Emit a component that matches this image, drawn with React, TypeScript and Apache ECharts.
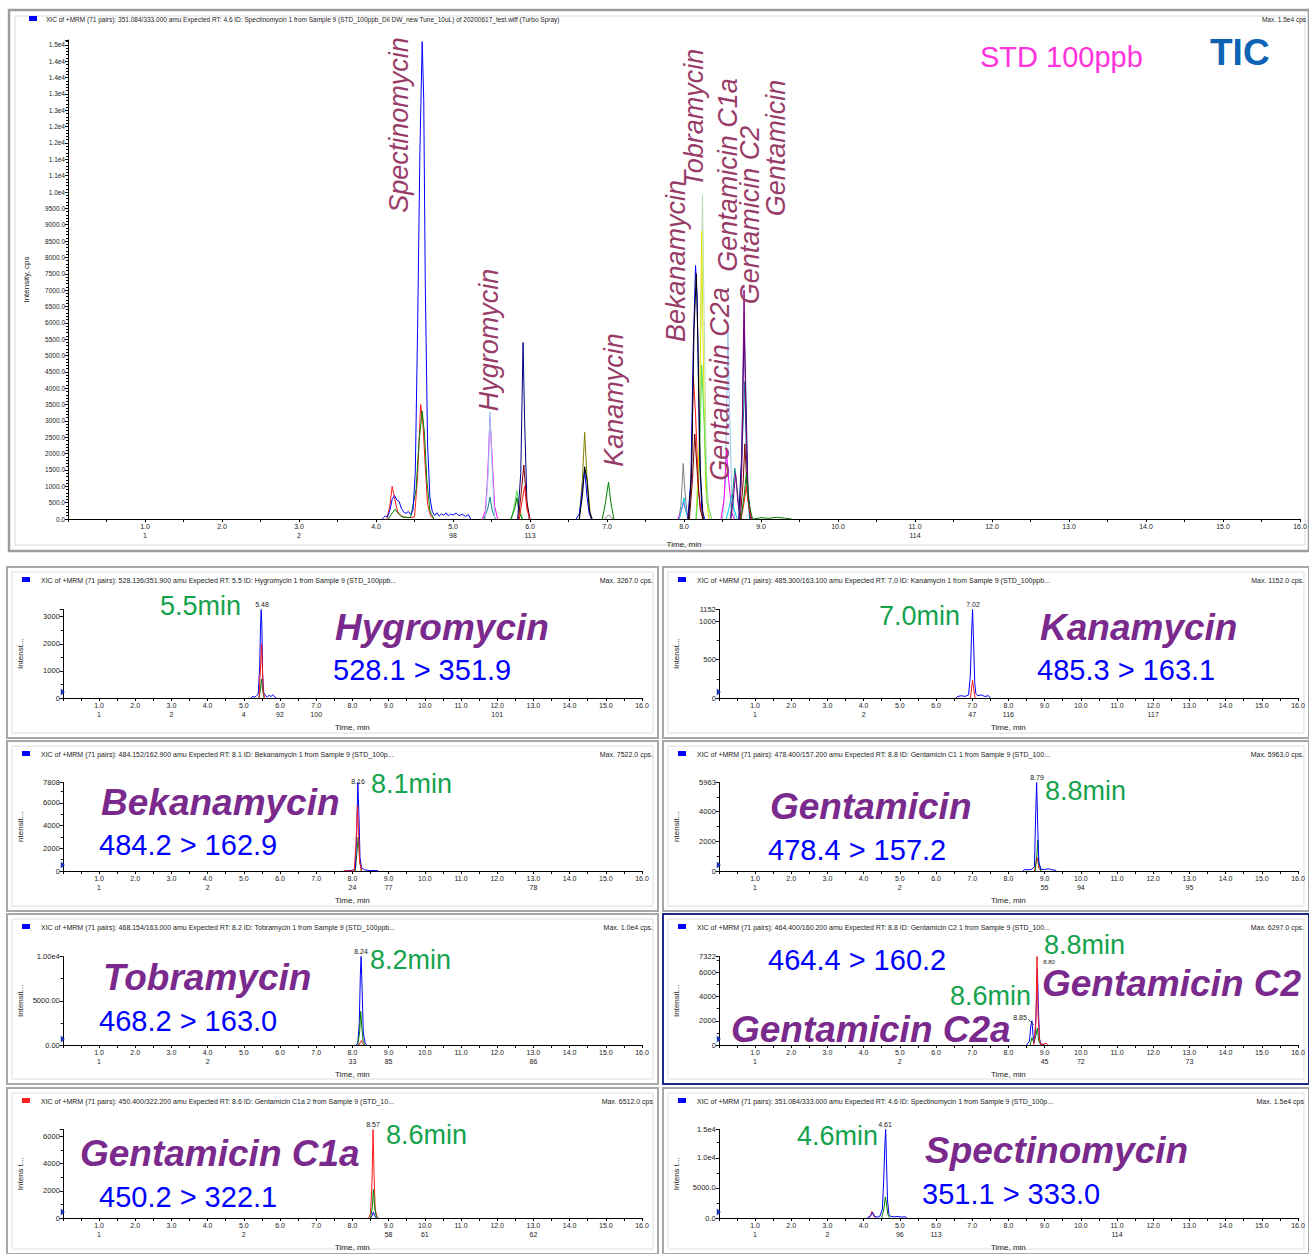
import React, { useEffect, useRef } from 'react';
import * as echarts from 'echarts';

const FONT = '"Liberation Sans", Arial, Helvetica, sans-serif';

// ---------------- TIC (top panel) traces: [time (min), intensity (cps)] ----------------
const SPEC_TIC_RED = [[4.14,0],[4.18,400],[4.21,1000],[4.24,650],[4.28,220],[4.33,90],[4.40,40],[4.50,60],[4.54,1300],[4.58,3500],[4.61,2900],[4.64,1600],[4.67,450],[4.71,80],[4.76,0]];
const SPEC_TIC_GREEN = [[4.16,0],[4.21,180],[4.25,300],[4.29,160],[4.34,60],[4.45,40],[4.52,900],[4.56,2400],[4.60,3300],[4.63,2600],[4.66,1200],[4.70,250],[4.75,0]];
const SPEC_TIC_BLUE = [[4.08,0],[4.12,90],[4.15,60],[4.18,260],[4.21,600],[4.24,720],[4.27,580],[4.30,540],[4.33,320],[4.36,210],[4.39,170],[4.42,230],[4.45,140],[4.48,260],[4.51,1400],[4.54,5800],[4.57,11200],[4.60,14600],[4.62,12800],[4.64,7200],[4.67,2300],[4.70,650],[4.73,240],[4.76,110],[4.79,190],[4.82,90],[4.85,160],[4.88,110],[4.91,190],[4.94,100],[4.97,150],[5.00,120],[5.04,180],[5.08,100],[5.12,150],[5.16,80],[5.20,130],[5.23,0]];
const HYG_TIC_TEAL = [[5.40,0],[5.45,300],[5.48,670],[5.51,250],[5.55,0]];
const HYG_TIC_MAGENTA = [[5.38,0],[5.42,250],[5.45,1300],[5.48,3100],[5.51,1800],[5.54,400],[5.58,0]];
const HYG_TIC_LIGHTBLUE = [[5.42,0],[5.46,1500],[5.48,3270],[5.50,2000],[5.54,0]];
const P58_LIGHTGREEN = [[5.76,0],[5.80,450],[5.83,870],[5.86,400],[5.90,0]];
const P58_GREEN = [[5.75,0],[5.80,300],[5.83,650],[5.86,200],[5.90,0]];
const P59_NAVY = [[5.84,0],[5.88,1400],[5.91,5400],[5.93,3000],[5.96,500],[6.00,0]];
const P59_MAROON = [[5.85,0],[5.89,900],[5.92,1650],[5.95,700],[5.99,0]];
const P59_RED = [[5.86,0],[5.90,600],[5.93,1000],[5.96,300],[6.00,0]];
const P67_OLIVE = [[6.64,0],[6.68,1200],[6.71,2650],[6.74,1300],[6.78,200],[6.81,0]];
const P67_BLUE = [[6.60,0],[6.64,150],[6.68,900],[6.71,1500],[6.74,700],[6.77,150],[6.80,0]];
const P67_BLACK = [[6.64,0],[6.68,700],[6.71,1600],[6.74,1200],[6.77,300],[6.80,0]];
const KAN_TIC_GREEN = [[6.94,0],[6.98,500],[7.02,1130],[7.05,500],[7.09,0]];
const KAN_TIC_GRAY = [[6.97,0],[7.00,80],[7.02,120],[7.05,60],[7.08,0]];
const P80_GRAY = [[7.93,0],[7.96,400],[7.99,1700],[8.01,900],[8.04,200],[8.07,0]];
const P80_MAGENTA = [[7.92,0],[7.96,200],[7.99,500],[8.02,300],[8.06,0]];
const P80_CYAN = [[7.94,0],[7.97,300],[8.00,650],[8.02,300],[8.05,0]];
const BEK_TIC_RED = [[8.05,0],[8.09,1000],[8.12,4400],[8.15,3200],[8.19,800],[8.24,0]];
const BEK_TIC_MAROON = [[8.07,0],[8.11,1200],[8.14,2600],[8.17,1500],[8.21,300],[8.25,0]];
const BEK_TIC_BLUE = [[8.05,0],[8.09,1200],[8.12,5200],[8.15,7750],[8.17,6800],[8.20,2400],[8.23,300],[8.27,0]];
const BEK_TIC_BLACK = [[8.06,0],[8.10,1500],[8.13,5800],[8.16,7500],[8.18,5500],[8.21,1500],[8.25,0]];
const TOB_TIC_PALEGREEN = [[8.15,0],[8.19,1500],[8.22,6000],[8.24,9900],[8.26,6500],[8.29,1500],[8.33,0]];
const TOB_TIC_YELLOW = [[8.16,0],[8.20,2500],[8.23,8800],[8.25,5000],[8.28,1000],[8.32,0]];
const TOB_TIC_GREEN = [[8.16,0],[8.20,1500],[8.23,4700],[8.26,3000],[8.30,500],[8.36,0]];
const C1A_TIC_LIGHTBLUE = [[8.50,0],[8.54,1200],[8.57,5800],[8.59,3500],[8.62,800],[8.66,0]];
const C1A_TIC_MAGENTA = [[8.48,0],[8.52,600],[8.55,2100],[8.58,1200],[8.62,200],[8.65,0]];
const C1A_TIC_CYAN = [[8.55,0],[8.59,400],[8.62,750],[8.65,300],[8.69,0]];
const C2A_TIC_TEAL = [[8.60,0],[8.63,700],[8.66,1550],[8.69,900],[8.72,200],[8.75,0]];
const C2A_TIC_PURPLE = [[8.61,0],[8.64,600],[8.67,1400],[8.70,500],[8.74,0]];
const GEN_TIC_MAROON = [[8.73,0],[8.77,1200],[8.79,2300],[8.82,900],[8.86,0]];
const GEN_TIC_TEAL = [[8.72,0],[8.76,2500],[8.79,4200],[8.81,2000],[8.85,0]];
const GEN_TIC_NAVY = [[8.71,0],[8.75,2000],[8.78,5800],[8.80,4200],[8.83,900],[8.87,0]];
const GEN_TIC_PURPLE = [[8.72,0],[8.75,1500],[8.78,7000],[8.80,3500],[8.83,600],[8.87,0]];
const GEN_TIC_RED = [[8.74,0],[8.78,500],[8.81,1000],[8.84,400],[8.88,0]];
const GEN_TIC_GREEN = [[8.74,0],[8.78,700],[8.81,1400],[8.84,500],[8.89,0]];
const TAIL_TIC_NOISE = [[8.90,0],[9.00,40],[9.10,20],[9.20,50],[9.30,30],[9.40,0]];

const TIC_SCANS: [number, string][] = [[1,'1'],[3,'2'],[5,'98'],[6,'113'],[11,'114']];

// ---------------- XIC panels ----------------
const HYG_BLUE = [[5.20,0],[5.25,60],[5.30,30],[5.35,80],[5.40,150],[5.44,1200],[5.46,2500],[5.48,3267],[5.50,2600],[5.52,900],[5.55,200],[5.60,80],[5.65,40],[5.70,100],[5.75,50],[5.80,120],[5.85,40],[5.90,0]];
const HYG_RED = [[5.42,0],[5.45,800],[5.49,2000],[5.51,1200],[5.54,200],[5.58,0]];
const HYG_GREEN = [[5.42,0],[5.46,300],[5.49,700],[5.52,300],[5.56,0]];
const HYG_SCANS: [number, string][] = [[1,'1'],[3,'2'],[5,'4'],[6,'92'],[7,'100'],[12,'101']];

const KAN_BLUE = [[6.55,0],[6.60,20],[6.70,30],[6.80,20],[6.90,40],[6.95,300],[6.98,800],[7.01,1152],[7.04,700],[7.07,200],[7.10,60],[7.15,30],[7.25,40],[7.35,20],[7.45,30],[7.50,0]];
const KAN_RED = [[6.95,0],[6.99,150],[7.01,230],[7.04,120],[7.08,0]];
const KAN_SCANS: [number, string][] = [[1,'1'],[4,'2'],[7,'47'],[8,'116'],[12,'117']];

const BEK_BLUE = [[7.80,0],[7.90,40],[8.00,60],[8.08,200],[8.12,3500],[8.15,7808],[8.18,5000],[8.21,1200],[8.25,300],[8.35,80],[8.50,40],[8.70,30],[8.72,0]];
const BEK_RED = [[7.75,0],[7.80,50],[7.85,0],[8.05,0],[8.10,2500],[8.14,5700],[8.17,3500],[8.20,800],[8.25,0]];
const BEK_GREEN = [[8.08,0],[8.12,1500],[8.16,3000],[8.20,1000],[8.25,0]];
const BEK_SCANS: [number, string][] = [[1,'1'],[4,'2'],[8,'24'],[9,'77'],[13,'78']];

const GEN_BLUE = [[8.40,0],[8.45,100],[8.55,80],[8.65,120],[8.72,300],[8.75,3500],[8.78,5963],[8.81,3000],[8.84,600],[8.90,120],[9.00,100],[9.10,150],[9.20,80],[9.30,60],[9.32,0]];
const GEN_RED = [[8.72,0],[8.77,700],[8.80,900],[8.84,200],[8.90,0]];
const GEN_GREEN = [[8.74,0],[8.79,1200],[8.81,2100],[8.84,500],[8.90,0]];
const GEN_SCANS: [number, string][] = [[1,'1'],[5,'2'],[9,'55'],[10,'94'],[13,'95']];

const TOB_BLUE = [[8.10,0],[8.15,200],[8.19,2500],[8.22,8000],[8.24,10000],[8.27,6000],[8.30,1500],[8.35,200],[8.40,0]];
const TOB_GREEN = [[8.15,0],[8.20,1500],[8.23,3800],[8.26,2000],[8.30,300],[8.35,0]];
const TOB_RED = [[8.18,0],[8.22,300],[8.25,500],[8.28,200],[8.32,0]];
const TOB_SCANS: [number, string][] = [[1,'1'],[4,'2'],[8,'33'],[9,'85'],[13,'86']];

const C2_BLUE = [[8.50,0],[8.58,300],[8.62,1600],[8.65,2000],[8.68,800],[8.72,200],[8.75,1500],[8.78,4000],[8.80,6300],[8.83,3000],[8.86,500],[8.90,100],[9.00,0]];
const C2_RED = [[8.70,0],[8.76,2000],[8.79,7322],[8.82,2500],[8.86,400],[8.90,0],[9.05,150],[9.10,0]];
const C2_GREEN = [[8.60,0],[8.65,600],[8.70,200],[8.76,800],[8.80,1400],[8.84,300],[8.90,0]];
const C2_SCANS: [number, string][] = [[1,'1'],[5,'2'],[9,'45'],[10,'72'],[13,'73']];

const C1A_BLUE = [[8.50,0],[8.55,200],[8.58,450],[8.61,200],[8.66,0]];
const C1A_RED = [[8.45,0],[8.50,300],[8.54,2500],[8.57,6512],[8.60,3000],[8.63,600],[8.68,100],[8.72,0]];
const C1A_GREEN = [[8.50,0],[8.55,800],[8.58,2100],[8.61,1000],[8.65,200],[8.70,0]];
const C1A_SCANS: [number, string][] = [[1,'1'],[5,'2'],[9,'58'],[10,'61'],[13,'62']];

const SPEC_BLUE = [[4.10,0],[4.15,200],[4.20,400],[4.25,900],[4.30,300],[4.35,200],[4.40,150],[4.45,300],[4.52,1500],[4.56,7000],[4.59,12500],[4.61,14700],[4.63,10000],[4.66,3000],[4.70,600],[4.75,250],[4.85,200],[4.95,250],[5.05,150],[5.15,200],[5.20,0]];
const SPEC_GREEN = [[4.50,0],[4.56,1500],[4.60,3500],[4.63,2500],[4.67,600],[4.72,0]];
const SPEC_RED = [[4.15,0],[4.20,600],[4.23,1100],[4.27,500],[4.32,0]];
const SPEC_SCANS: [number, string][] = [[1,'1'],[3,'2'],[5,'96'],[6,'113'],[11,'114']];

// ---------------- colours ----------------
const C = {
  blue: '#0000ff', red: '#ff1a1a', green: '#008000', navy: '#000080', magenta: '#ff00ff',
  lightblue: '#9cc6ee', teal: '#008080', lightgreen: '#55dd55', palegreen: '#b5dcb0',
  maroon: '#800000', olive: '#808000', black: '#000000', gray: '#808080', cyan: '#00d0e0',
  yellow: '#e6e600', purple: '#800080',
};

const TIC_TRACES: [number[][], string][] = [
  [SPEC_TIC_RED, C.red], [SPEC_TIC_GREEN, C.green], [SPEC_TIC_BLUE, C.blue],
  [HYG_TIC_TEAL, C.teal], [HYG_TIC_MAGENTA, C.magenta], [HYG_TIC_LIGHTBLUE, C.lightblue],
  [P58_LIGHTGREEN, C.lightgreen], [P58_GREEN, C.green], [P59_NAVY, C.navy], [P59_MAROON, C.maroon], [P59_RED, C.red],
  [P67_OLIVE, C.olive], [P67_BLUE, C.blue], [P67_BLACK, C.black],
  [KAN_TIC_GREEN, C.green], [KAN_TIC_GRAY, C.gray],
  [P80_GRAY, C.gray], [P80_MAGENTA, C.magenta], [P80_CYAN, C.cyan],
  [TOB_TIC_PALEGREEN, C.palegreen], [TOB_TIC_YELLOW, C.yellow], [TOB_TIC_GREEN, C.lightgreen],
  [BEK_TIC_RED, C.red], [BEK_TIC_MAROON, C.maroon], [BEK_TIC_BLUE, C.blue], [BEK_TIC_BLACK, C.black],
  [C1A_TIC_LIGHTBLUE, C.lightblue], [C1A_TIC_MAGENTA, C.magenta], [C1A_TIC_CYAN, C.cyan],
  [C2A_TIC_TEAL, C.teal], [C2A_TIC_PURPLE, C.purple],
  [GEN_TIC_MAROON, C.maroon], [GEN_TIC_TEAL, C.teal], [GEN_TIC_NAVY, C.navy], [GEN_TIC_PURPLE, C.purple],
  [GEN_TIC_RED, C.red], [GEN_TIC_GREEN, C.green], [TAIL_TIC_NOISE, C.green],
];

const YFMT: Record<string, (v: number) => string> = {
  int: (v) => v.toFixed(0),
  e4two: (v) => (v >= 1e4 ? (Math.round(v / 100) / 100).toFixed(2) + 'e4' : v.toFixed(2)),
  e4one: (v) => (v >= 1e4 ? (Math.round(v / 1000) / 10).toFixed(1) + 'e4' : v.toFixed(1)),
};

type Panel = {
  col: number; row: number; title: string; maxText: string; ymax: number; interval: number;
  fmt: string; showMax: boolean; yName: string; scans: [number, string][];
  traces: [number[][], string][]; square: string; frame?: string;
};

const PANELS: Panel[] = [
  { col: 0, row: 0, title: 'XIC of +MRM (71 pairs): 528.136/351.900 amu Expected RT: 5.5 ID: Hygromycin 1 from Sample 9 (STD_100ppb...', maxText: 'Max. 3267.0 cps.', ymax: 3267, interval: 1000, fmt: 'int', showMax: false, yName: 'Intenst...', scans: HYG_SCANS, traces: [[HYG_GREEN, C.green], [HYG_BLUE, C.blue], [HYG_RED, C.red]], square: C.blue },
  { col: 1, row: 0, title: 'XIC of +MRM (71 pairs): 485.300/163.100 amu Expected RT: 7.0 ID: Kanamycin 1 from Sample 9 (STD_100ppb...', maxText: 'Max. 1152.0 cps.', ymax: 1152, interval: 500, fmt: 'int', showMax: true, yName: 'Intenst...', scans: KAN_SCANS, traces: [[KAN_BLUE, C.blue], [KAN_RED, C.red]], square: C.blue },
  { col: 0, row: 1, title: 'XIC of +MRM (71 pairs): 484.152/162.900 amu Expected RT: 8.1 ID: Bekanamycin 1 from Sample 9 (STD_100p...', maxText: 'Max. 7522.0 cps.', ymax: 7808, interval: 2000, fmt: 'int', showMax: true, yName: 'ntensit...', scans: BEK_SCANS, traces: [[BEK_GREEN, C.green], [BEK_BLUE, C.blue], [BEK_RED, C.red]], square: C.blue },
  { col: 1, row: 1, title: 'XIC of +MRM (71 pairs): 478.400/157.200 amu Expected RT: 8.8 ID: Gentamicin C1 1 from Sample 9 (STD_100...', maxText: 'Max. 5963.0 cps.', ymax: 5963, interval: 2000, fmt: 'int', showMax: true, yName: 'ntensit...', scans: GEN_SCANS, traces: [[GEN_RED, C.red], [GEN_GREEN, C.green], [GEN_BLUE, C.blue]], square: C.blue },
  { col: 0, row: 2, title: 'XIC of +MRM (71 pairs): 468.154/163.000 amu Expected RT: 8.2 ID: Tobramycin 1 from Sample 9 (STD_100ppb...', maxText: 'Max. 1.0e4 cps.', ymax: 10000, interval: 5000, fmt: 'e4two', showMax: true, yName: 'Intensit...', scans: TOB_SCANS, traces: [[TOB_RED, C.red], [TOB_BLUE, C.blue], [TOB_GREEN, C.green]], square: C.blue },
  { col: 1, row: 2, title: 'XIC of +MRM (71 pairs): 464.400/160.200 amu Expected RT: 8.8 ID: Gentamicin C2 1 from Sample 9 (STD_100...', maxText: 'Max. 6297.0 cps.', ymax: 7322, interval: 2000, fmt: 'int', showMax: true, yName: 'Intensit...', scans: C2_SCANS, traces: [[C2_GREEN, C.green], [C2_BLUE, C.blue], [C2_RED, C.red]], square: C.blue, frame: '#1c2a8c' },
  { col: 0, row: 3, title: 'XIC of +MRM (71 pairs): 450.400/322.200 amu Expected RT: 8.6 ID: Gentamicin C1a 2 from Sample 9 (STD_10...', maxText: 'Max. 6512.0 cps', ymax: 6512, interval: 2000, fmt: 'int', showMax: false, yName: 'Intens t...', scans: C1A_SCANS, traces: [[C1A_BLUE, C.blue], [C1A_RED, C.red], [C1A_GREEN, C.green]], square: '#ff2020' },
  { col: 1, row: 3, title: 'XIC of +MRM (71 pairs): 351.084/333.000 amu Expected RT: 4.6 ID: Spectinomycin 1 from Sample 9 (STD_100p...', maxText: 'Max. 1.5e4 cps', ymax: 14700, interval: 5000, fmt: 'e4one', showMax: true, yName: 'Intens t...', scans: SPEC_SCANS, traces: [[SPEC_RED, C.red], [SPEC_BLUE, C.blue], [SPEC_GREEN, C.green]], square: C.blue },
];

// layout
const COL_X = [7, 663];
const COL_W = [651, 646];
const ROW_Y = [567, 741, 914, 1088];
const ROW_H = [171, 170, 170, 166];
const PLOT_LEFT = [62.8, 718.8];
const PLOT_W = 579.2;
const AXIS_Y = [698, 871, 1045, 1218];
const PLOT_H = 88.5;

const PURPLE = '#7a2a8c';
const GREEN_T = '#14a24c';
const BLUE_T = '#0000ff';
const ROT = '#983c68';

function xAxis(gridIndex: number, scans: [number, string][], nameGap: number) {
  const m = new Map(scans);
  return {
    type: 'value', gridIndex, min: 0, max: 16, interval: 0.5,
    axisLine: { show: true, onZero: false, lineStyle: { color: '#000', width: 1 } },
    axisTick: { show: true, length: 3, lineStyle: { color: '#000', width: 1 } },
    splitLine: { show: false },
    axisLabel: {
      show: true, fontSize: 7, color: '#222', fontFamily: FONT, margin: 3, lineHeight: 9,
      showMinLabel: true, showMaxLabel: true, hideOverlap: false,
      formatter: (v: number) => {
        if (v === 0 || Math.abs(v - Math.round(v)) > 1e-6) return '';
        const s = m.get(Math.round(v));
        return s ? `${v.toFixed(1)}\n${s}` : v.toFixed(1);
      },
    },
    name: 'Time, min', nameLocation: 'middle', nameGap,
    nameTextStyle: { fontSize: 8, color: '#222', fontFamily: FONT },
  };
}

function yAxis(gridIndex: number, max: number, interval: number, fmt: string, showMax: boolean, name: string, fontSize: number, minorSplit: number) {
  return {
    type: 'value', gridIndex, min: 0, max, interval,
    axisLine: { show: true, onZero: false, lineStyle: { color: '#000', width: 1 } },
    axisTick: { show: true, length: 3, lineStyle: { color: '#000', width: 1 } },
    minorTick: { show: true, splitNumber: minorSplit, length: 2, lineStyle: { color: '#000', width: 1 } },
    splitLine: { show: false },
    axisLabel: { show: true, fontSize, color: '#222', fontFamily: FONT, margin: 3, showMinLabel: true, showMaxLabel: showMax, hideOverlap: false, formatter: YFMT[fmt] },
    name, nameLocation: 'middle', nameGap: 38, nameRotate: 90,
    nameTextStyle: { fontSize: 8, color: '#222', fontFamily: FONT },
  };
}

function lineSeries(idx: number, data: number[][], color: string) {
  return {
    type: 'line', xAxisIndex: idx, yAxisIndex: idx, data, symbol: 'none', silent: true,
    lineStyle: { color, width: 1 }, itemStyle: { color }, animation: false, z: 3,
  };
}

function txt(text: string, x: number, y: number, o: any = {}) {
  return {
    type: 'text', x, y, silent: true, rotation: o.rotation || 0, z: 10,
    style: {
      text, fill: o.fill || '#222', fontSize: o.size || 7, fontFamily: FONT,
      fontWeight: o.weight || 'normal', fontStyle: o.style || 'normal',
      textAlign: o.align || 'left', align: o.align || 'left',
      textVerticalAlign: 'middle', verticalAlign: 'middle',
    },
  };
}

function rect(x: number, y: number, w: number, h: number, stroke: string, lw: number, fill = 'none') {
  return { type: 'rect', silent: true, z: 1, shape: { x, y, width: w, height: h }, style: { fill, stroke, lineWidth: lw } };
}

export default function App() {
  const ref = useRef<HTMLDivElement>(null);
  useEffect(() => {
    if (!ref.current) return;
    const chart = echarts.init(ref.current, undefined, { renderer: 'svg' });

    const grids: any[] = [{ left: 68, top: 40, width: 1232, height: 479, containLabel: false, outerBoundsMode: 'none' }];
    const xAxes: any[] = [xAxis(0, TIC_SCANS, 19)];
    const yAxes: any[] = [yAxis(0, 14650, 500, 'e4one', false, 'Intensity, cps', 6.5, 5)];
    const series: any[] = TIC_TRACES.map(([d, c]) => lineSeries(0, d, c));
    const graphics: any[] = [];

    // top frame
    graphics.push(rect(9, 10, 1300, 541, '#9c9c9c', 2.5, '#fff'));
    graphics.push(rect(15, 16, 1290, 529, '#dadada', 1));
    graphics.push(rect(29, 16, 8, 5, 'none', 0, C.blue));
    graphics.push(txt('XIC of +MRM (71 pairs): 351.084/333.000 amu Expected RT: 4.6 ID: Spectinomycin 1 from Sample 9 (STD_100ppb_Dil DW_new Tune_10uL) of 20200617_test.wiff (Turbo Spray)', 46, 19, { size: 6.5 }));
    graphics.push(txt('Max. 1.5e4 cps', 1306, 19, { size: 6.5, align: 'right' }));
    graphics.push(txt('STD 100ppb', 980, 57, { size: 29, fill: '#ff33dd' }));
    graphics.push(txt('TIC', 1210, 52, { size: 37, fill: '#0e62b3', weight: 'bold' }));
    const rotLabels: [string, number, number][] = [
      ['Spectinomycin', 399, 125], ['Hygromycin', 489, 340], ['Kanamycin', 614, 400],
      ['Bekanamycin', 676, 261], ['Tobramycin', 694, 118], ['Gentamicin C1a', 728, 175],
      ['Gentamicin C2', 750, 215], ['Gentamicin', 776, 148], ['Gentamicin C2a', 720, 384],
    ];
    rotLabels.forEach(([t, x, y]) => graphics.push(txt(t, x, y, { size: 27, fill: ROT, style: 'italic', align: 'center', rotation: Math.PI / 2 })));

    PANELS.forEach((p, i) => {
      const gi = i + 1;
      const px = COL_X[p.col], py = ROW_Y[p.row], pw = COL_W[p.col], ph = ROW_H[p.row];
      grids.push({ left: PLOT_LEFT[p.col], top: AXIS_Y[p.row] - PLOT_H, width: PLOT_W, height: PLOT_H, containLabel: false, outerBoundsMode: 'none' });
      xAxes.push(xAxis(gi, p.scans, 25));
      yAxes.push(yAxis(gi, p.ymax, p.interval, p.fmt, p.showMax, p.yName, 7.5, 2));
      p.traces.forEach(([d, c]) => series.push(lineSeries(gi, d, c)));
      graphics.push(rect(px, py, pw, ph, p.frame || '#a8a8a8', 2, '#fff'));
      graphics.push(rect(px + 5, py + 5, pw - 10, ph - 10, '#dedede', 1));
      graphics.push(rect(px + 15, py + 10, 8, 5, 'none', 0, p.square));
      graphics.push(txt(p.title, px + 34, py + 13, { size: 7 }));
      graphics.push(txt(p.maxText, px + pw - 5, py + 13, { size: 7, align: 'right' }));
      const tx = PLOT_LEFT[p.col] - 2, ty = AXIS_Y[p.row] - 6;
      graphics.push({ type: 'polygon', silent: true, z: 10, shape: { points: [[tx, ty - 3.5], [tx + 4, ty], [tx, ty + 3.5]] }, style: { fill: '#1030c0' } });
    });

    const big = { size: 37, fill: PURPLE, weight: 'bold', style: 'italic' };
    const mrm = { size: 29, fill: BLUE_T };
    const rt = { size: 27, fill: GREEN_T };
    const apex = { size: 7, align: 'center' };
    graphics.push(
      txt('5.5min', 160, 606, rt), txt('5.48', 262, 604, apex), txt('Hygromycin', 335, 627, big), txt('528.1 > 351.9', 333, 670, mrm),
      txt('7.0min', 879, 616, rt), txt('7.02', 973, 604, apex), txt('Kanamycin', 1040, 627, big), txt('485.3 > 163.1', 1037, 670, mrm),
      txt('Bekanamycin', 101, 802, big), txt('484.2 > 162.9', 99, 845, mrm), txt('8.1min', 371, 784, rt), txt('8.16', 358, 781, apex),
      txt('Gentamicin', 770, 806, big), txt('478.4 > 157.2', 768, 850, mrm), txt('8.8min', 1045, 791, rt), txt('8.79', 1037, 777, apex),
      txt('Tobramycin', 103, 977, big), txt('468.2 > 163.0', 99, 1021, mrm), txt('8.2min', 370, 960, rt), txt('8.24', 361, 951, apex),
      txt('464.4 > 160.2', 768, 960, mrm), txt('8.8min', 1044, 945, rt), txt('Gentamicin C2', 1042, 983, big),
      txt('8.6min', 950, 996, rt), txt('Gentamicin C2a', 731, 1029, big), txt('8.85', 1020, 1017, apex), txt('8.80', 1049, 962, { size: 6, align: 'center' }),
      txt('Gentamicin C1a', 80, 1153, big), txt('450.2 > 322.1', 99, 1197, mrm), txt('8.6min', 386, 1135, rt), txt('8.57', 373, 1124, apex),
      txt('Spectinomycin', 925, 1150, big), txt('351.1 > 333.0', 922, 1194, mrm), txt('4.6min', 797, 1136, rt), txt('4.61', 885, 1124, apex),
    );
    graphics.push({ type: 'line', silent: true, z: 10, shape: { x1: 1028, y1: 1019, x2: 1034, y2: 1025 }, style: { stroke: '#222', lineWidth: 0.8 } });

    // frames go below the chart
    const frameEls = graphics.filter((g) => g.type === 'rect').map((g) => ({ ...g, z: -10, zlevel: 0 }));
    const otherEls = graphics.filter((g) => g.type !== 'rect');

    chart.setOption({
      animation: false,
      backgroundColor: '#ffffff',
      grid: grids,
      xAxis: xAxes,
      yAxis: yAxes,
      series,
      graphic: { elements: [...frameEls, ...otherEls] },
    });
    return () => chart.dispose();
  }, []);

  return <div ref={ref} style={{ position: 'absolute', left: 0, top: 0, width: 1309, height: 1254, background: '#fff' }} />;
}
